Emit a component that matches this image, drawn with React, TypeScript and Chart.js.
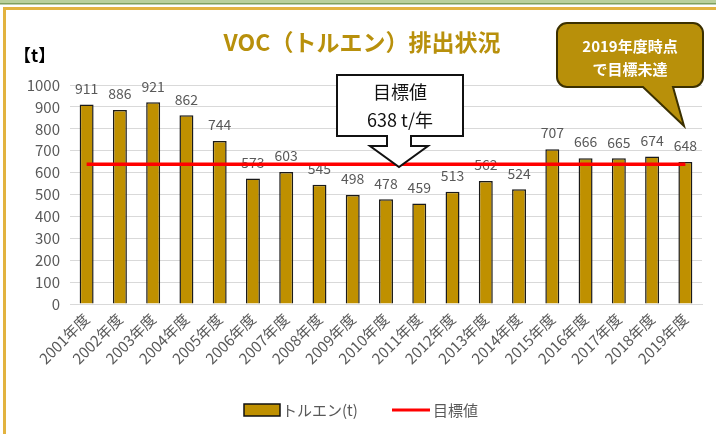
import { useEffect, useRef } from 'react';
import { Chart, registerables } from 'chart.js';

Chart.register(...registerables);

const FONT = '"Noto Sans CJK JP", "Noto Sans", sans-serif';

const categories = [
  '2001年度', '2002年度', '2003年度', '2004年度', '2005年度', '2006年度', '2007年度',
  '2008年度', '2009年度', '2010年度', '2011年度', '2012年度', '2013年度', '2014年度',
  '2015年度', '2016年度', '2017年度', '2018年度', '2019年度',
];
const toluene = [911, 886, 921, 862, 744, 573, 603, 545, 498, 478, 459, 513, 562, 524, 707, 666, 665, 674, 648];
const target = [638, 638, 638, 638, 638, 638, 638, 638, 638, 638, 638, 638, 638, 638, 638, 638, 638, 638, 638];
const seriesNames = ['トルエン(t)', '目標値'];
const titleText = 'VOC（トルエン）排出状況';
const unitText = '【t】';
const targetNote = ['目標値', '638 t/年'];
const statusNote = ['2019年度時点', 'で目標未達'];

const GOLD = '#BF9000';
const GRAY = '#595959';

export default function App() {
  const ref = useRef<HTMLCanvasElement>(null);

  useEffect(() => {
    document.body.style.margin = '0';
    const decor = {
      id: 'decor',
      beforeDraw(chart: any) {
        const ctx = chart.ctx;
        ctx.save();
        ctx.fillStyle = '#ffffff';
        ctx.fillRect(0, 0, 716, 434);
        ctx.fillStyle = '#b9d09c';
        ctx.fillRect(0, 0, 716, 4);
        ctx.fillStyle = '#7fa05e';
        ctx.fillRect(0, 3, 716, 1.5);
        ctx.fillStyle = '#E2B33F';
        ctx.fillRect(3, 7, 713, 3);
        ctx.fillRect(3, 7, 3, 427);
        ctx.fillStyle = '#B8900C';
        ctx.font = `bold 23px ${FONT}`;
        ctx.textAlign = 'center';
        ctx.textBaseline = 'middle';
        ctx.fillText(titleText, 362, 42);
        ctx.fillStyle = '#000';
        ctx.font = `bold 17px ${FONT}`;
        ctx.textAlign = 'left';
        ctx.fillText(unitText, 14, 56);
        ctx.restore();
      },
      afterDatasetDraw(chart: any, args: any) {
        if (args.index !== 0) return;
        const ctx = chart.ctx;
        ctx.save();
        ctx.fillStyle = GRAY;
        ctx.font = `14px ${FONT}`;
        ctx.textAlign = 'center';
        ctx.textBaseline = 'middle';
        args.meta.data.forEach((el: any, i: number) => {
          ctx.fillText(String(toluene[i]), el.x, el.y - 16);
        });
        ctx.restore();
      },
      afterDraw(chart: any) {
        const ctx = chart.ctx;
        ctx.save();
        ctx.beginPath();
        ctx.moveTo(337, 75);
        ctx.lineTo(463, 75);
        ctx.lineTo(463, 136);
        ctx.lineTo(411, 136);
        ctx.lineTo(411, 146);
        ctx.lineTo(428, 146);
        ctx.lineTo(399, 167);
        ctx.lineTo(370, 146);
        ctx.lineTo(387, 146);
        ctx.lineTo(387, 136);
        ctx.lineTo(337, 136);
        ctx.closePath();
        ctx.fillStyle = '#ffffff';
        ctx.fill();
        ctx.lineWidth = 2;
        ctx.strokeStyle = '#111';
        ctx.stroke();
        ctx.fillStyle = '#111';
        ctx.font = `18px ${FONT}`;
        ctx.textAlign = 'center';
        ctx.textBaseline = 'middle';
        ctx.fillText(targetNote[0], 400, 92);
        ctx.fillText(targetNote[1], 400, 120);

        const x0 = 557, y0 = 23, x1 = 703, y1 = 87, r = 10;
        ctx.beginPath();
        ctx.moveTo(x0 + r, y0);
        ctx.lineTo(x1 - r, y0);
        ctx.arcTo(x1, y0, x1, y0 + r, r);
        ctx.lineTo(x1, y1 - r);
        ctx.arcTo(x1, y1, x1 - r, y1, r);
        ctx.lineTo(673, y1);
        ctx.lineTo(684, 126);
        ctx.lineTo(643, y1);
        ctx.lineTo(x0 + r, y1);
        ctx.arcTo(x0, y1, x0, y1 - r, r);
        ctx.lineTo(x0, y0 + r);
        ctx.arcTo(x0, y0, x0 + r, y0, r);
        ctx.closePath();
        ctx.fillStyle = '#B8900A';
        ctx.fill();
        ctx.lineWidth = 2;
        ctx.strokeStyle = '#3b3000';
        ctx.stroke();
        ctx.fillStyle = '#ffffff';
        ctx.font = `bold 15px ${FONT}`;
        ctx.fillText(statusNote[0], 630, 46);
        ctx.fillText(statusNote[1], 630, 69);

        const ly = 410;
        ctx.fillStyle = GOLD;
        ctx.fillRect(244, ly - 6, 36, 12);
        ctx.lineWidth = 1.5;
        ctx.strokeStyle = '#111';
        ctx.strokeRect(244, ly - 6, 36, 12);
        ctx.fillStyle = GRAY;
        ctx.font = `15px ${FONT}`;
        ctx.textAlign = 'left';
        ctx.fillText(seriesNames[0], 282, ly);
        ctx.strokeStyle = '#FF0000';
        ctx.lineWidth = 3;
        ctx.beginPath();
        ctx.moveTo(392, ly);
        ctx.lineTo(430, ly);
        ctx.stroke();
        ctx.fillText(seriesNames[1], 433, ly);
        ctx.restore();
      },
    };

    const chart = new Chart(ref.current as HTMLCanvasElement, {
      type: 'bar',
      data: {
        labels: categories,
        datasets: [
          {
            type: 'bar',
            label: seriesNames[0],
            data: toluene,
            backgroundColor: GOLD,
            borderColor: '#1a1a1a',
            borderWidth: 1.5,
            categoryPercentage: 1,
            barPercentage: 0.42,
            order: 2,
          } as any,
          {
            type: 'line',
            label: seriesNames[1],
            data: target,
            borderColor: '#FF0000',
            borderWidth: 3.5,
            pointRadius: 0,
            fill: false,
            order: 1,
          } as any,
        ],
      },
      options: {
        responsive: false,
        animation: false,
        devicePixelRatio: 1,
        layout: { padding: { top: 85, right: 14, bottom: 60, left: 0 } },
        plugins: {
          legend: { display: false },
          tooltip: { enabled: false },
          title: { display: false },
        },
        scales: {
          x: {
            offset: true,
            grid: { display: false, drawTicks: false },
            border: { display: true, color: '#d9d9d9', width: 1 },
            ticks: {
              color: GRAY,
              font: { family: FONT, size: 15 },
              minRotation: 45,
              maxRotation: 45,
              autoSkip: false,
              padding: 6,
            },
            afterFit: (s: any) => { s.height = 70; },
          },
          y: {
            min: 0,
            max: 1000,
            ticks: {
              stepSize: 100,
              color: GRAY,
              font: { family: FONT, size: 15 },
              padding: 10,
              callback: (v: any) => String(v),
            },
            grid: { color: '#d9d9d9', drawTicks: false },
            border: { display: false },
            afterFit: (s: any) => { s.width = 70; },
          },
        },
      },
      plugins: [decor],
    });
    return () => chart.destroy();
  }, []);

  return (
    <div style={{ position: 'fixed', left: 0, top: 0, width: 716, height: 434 }}>
      <canvas ref={ref} width={716} height={434} />
    </div>
  );
}
